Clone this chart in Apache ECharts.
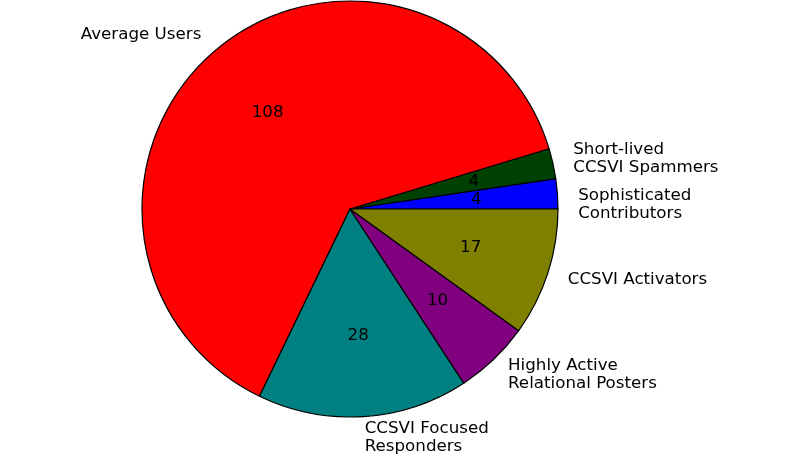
<!DOCTYPE html>
<html>
<head>
<meta charset="utf-8">
<script src="https://cdn.jsdelivr.net/npm/echarts@6/dist/echarts.min.js"></script>
<style>html,body{margin:0;padding:0;background:#fff}#c{width:800px;height:456px}</style>
</head>
<body>
<div id="c"></div>
<script>
const categories = ['Sophisticated\nContributors', 'Short-lived\nCCSVI Spammers', 'Average Users', 'CCSVI Focused\nResponders', 'Highly Active\nRelational Posters', 'CCSVI Activators'];
const values = [4, 4, 108, 28, 10, 17];
const colors = ['#0000ff', '#004000', '#ff0000', '#008080', '#800080', '#808000'];

const R = 208;
const chart = echarts.init(document.getElementById('c'), null, {renderer: 'canvas'});
const font = {fontFamily: 'DejaVu Sans', fontSize: 16.7, lineHeight: 18, color: '#000'};
chart.setOption({
  animation: false,
  series: [
    {
      type: 'pie',
      center: [350, 209],
      radius: [0, R],
      startAngle: 0,
      clockwise: false,
      avoidLabelOverlap: false,
      minAngle: 0,
      emphasis: {disabled: true},
      itemStyle: {borderColor: '#000', borderWidth: 1.2},
      label: Object.assign({show: true, position: 'outside', formatter: '{b}', distanceToLabelLine: 0}, font),
      labelLine: {show: false, length: R * 0.1, length2: 0},
      labelLayout: function (p) { return p.dataIndex === 0 ? {dy: 12} : {}; },
      data: categories.map((c, i) => ({name: c, value: values[i], itemStyle: {color: colors[i]}}))
    },
    {
      type: 'pie',
      center: [350, 209],
      radius: [R * 0.19, R],
      startAngle: 0,
      clockwise: false,
      avoidLabelOverlap: false,
      silent: true,
      emphasis: {disabled: true},
      itemStyle: {color: 'rgba(0,0,0,0)', borderWidth: 0},
      label: Object.assign({show: true, position: 'inside', formatter: '{c}'}, font),
      labelLine: {show: false},
      data: categories.map((c, i) => ({name: c, value: values[i]}))
    }
  ]
});
</script>
</body>
</html>
